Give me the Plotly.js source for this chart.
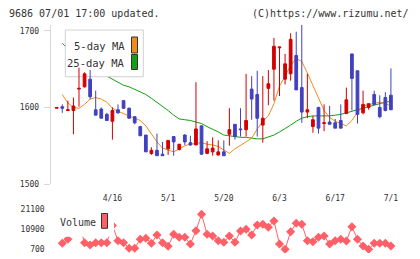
<!DOCTYPE html>
<html>
<head>
<meta charset="utf-8">
<script src="https://cdn.plot.ly/plotly-3.0.1.min.js"></script>
<style>
  html, body { margin: 0; padding: 0; background: #fff; }
  #chart { width: 420px; height: 259px; }
</style>
</head>
<body>
<div id="chart"></div>
<script>
// Daily candles for 9686, Apr 2024 .. 07/01, with 5/25-day moving averages and volume.
const openP  = [1599,1601,1596,1596,1624,1627,1637,1597,1598,1591,1582,1597,1609,1599,1588,1575,1564,1540,1544,1539,
                1546,1562,1545,1564,1554,1551,1576,1540,1542,1538,1542,1565,1578,1572,1571,1624,1617,1577,1625,1650,
                1678,1637,1644,1668,1626,1594,1575,1600,1579,1581,1580,1583,1592,1670,1648,1593,1600,1617,1600,1613,1616];
const highP  = [1600,1604,1609,1613,1652,1646,1649,1622,1600,1593,1600,1604,1609,1600,1588,1576,1564,1548,1566,1555,
                1557,1562,1552,1565,1563,1633,1576,1556,1561,1557,1557,1599,1578,1599,1644,1641,1648,1641,1649,1691,
                1679,1670,1697,1699,1712,1644,1589,1601,1604,1602,1585,1604,1626,1670,1648,1622,1605,1622,1616,1620,1651];
const lowP   = [1599,1593,1596,1565,1601,1626,1611,1590,1586,1583,1558,1592,1598,1585,1578,1563,1542,1538,1537,1537,
                1538,1537,1544,1551,1550,1551,1538,1539,1537,1537,1537,1550,1558,1562,1562,1584,1562,1554,1603,1609,
                1615,1630,1635,1623,1580,1586,1567,1566,1569,1578,1573,1573,1592,1596,1579,1591,1597,1603,1586,1595,1597];
const closeP = [1600,1599,1597,1602,1625,1644,1614,1590,1586,1583,1596,1593,1599,1586,1580,1563,1542,1544,1537,1537,
                1557,1555,1552,1555,1551,1572,1539,1546,1547,1542,1537,1571,1562,1571,1583,1611,1586,1586,1631,1680,
                1679,1657,1689,1623,1594,1597,1584,1573,1580,1578,1573,1573,1610,1638,1591,1604,1605,1604,1588,1596,1597];

const ma5  = [null,1617,1606,1600,1599,1604,1611,1613,1611,1607,1599,1595,1592,1589,1586,1583,1576,1566,1555,1547,
              1544,1542,1546,1550,1552,1553,1554,1552,1551,1549,1545,1540,1546,1550,1555,1560,1572,1582,1589,1605,
              1628,1641,1655,1664,1660,1645,1629,1612,1596,1587,1582,1579,1576,1583,1594,1602,1604,1605,1607,1605,1602];
const ma25 = [null,1684,1676,1669,1663,1658,1653,1649,1645,1641,1638,1634,1629,1627,1624,1620,1617,1612,1607,1601,
              1596,1590,1585,1584,1583,1581,1579,1575,1572,1568,1564,1563,1562,1561,1561,1560,1559,1559,1561,1564,
              1568,1572,1577,1582,1586,1588,1589,1589,1589,1589,1590,1591,1593,1595,1598,1600,1602,1604,1606,1607,1608];

const volume = [null,3740,5760,21100,14000,4040,2880,4040,4040,4040,12800,5050,4040,1210,1210,5760,6270,3740,7940,4040,
                2270,8290,6770,6770,3380,10110,18420,8290,7430,5050,4240,7430,4240,9960,10820,7940,13000,13350,11840,15030,
                3380,700,9610,13860,13350,5050,4550,6770,7430,3380,5050,5760,4900,12140,5760,2370,700,3740,3740,3740,2370];

const tickLabels  = ['4/16', '5/1', '5/20', '6/3', '6/17', '7/1'];
const tickDays    = [10, 20, 30, 40, 50, 60];
const priceTicks  = [1500, 1600, 1700];
const volumeTicks = [700, 10900, 21100];

const days = openP.map((_, i) => i);

// ---- geometry (pixels of the 420x259 canvas) ----
const W = 420, H = 259;
const plotL = 50.7, plotR = 405;
const priceTop = 25, priceBot = 184;
const volTop = 205, volBot = 253;
const xRange = [-1.08, 62.53];
const priceRange = [1500, 1707.8];
const volRange = [-1173, 23125];

const fx = px => px / W;
const fy = py => 1 - py / H;
const dataX = px => xRange[0] + (px - plotL) / (plotR - plotL) * (xRange[1] - xRange[0]);
const dataY = py => priceRange[0] + (priceBot - py) / (priceBot - priceTop) * (priceRange[1] - priceRange[0]);

const RED = '#d20000', BLUE = '#4040c0';
const ORANGE = '#f08c1e', GREEN = '#14a014', VOLC = '#ff6068';
const AXIS = '#d8d8d8', TEXT = '#333';
const MONO = 'DejaVu Sans Mono, monospace';

// moving-average legend frame sits above the MA lines but under the candles
const boxX = [dataX(65.3), dataX(143.3), dataX(143.3), dataX(65.3), dataX(65.3)];
const boxY = [dataY(30), dataY(30), dataY(76.7), dataY(76.7), dataY(30)];

const traces = [
  { type: 'scatter', mode: 'lines', x: days, y: ma25, xaxis: 'x', yaxis: 'y',
    line: { color: GREEN, width: 1 }, hoverinfo: 'skip', showlegend: false },
  { type: 'scatter', mode: 'lines', x: days, y: ma5, xaxis: 'x', yaxis: 'y',
    line: { color: ORANGE, width: 1 }, hoverinfo: 'skip', showlegend: false },
  { type: 'scatter', mode: 'lines', x: boxX, y: boxY, xaxis: 'x', yaxis: 'y',
    fill: 'toself', fillcolor: '#ffffff', line: { color: '#d0d0d0', width: 1 },
    hoverinfo: 'skip', showlegend: false },
  { type: 'candlestick', x: days, open: openP, high: highP, low: lowP, close: closeP,
    xaxis: 'x', yaxis: 'y3', whiskerwidth: 0,
    increasing: { line: { color: RED, width: 1 }, fillcolor: RED },
    decreasing: { line: { color: BLUE, width: 1 }, fillcolor: BLUE },
    hoverinfo: 'skip', showlegend: false },
  { type: 'scatter', mode: 'lines+markers', x: days, y: volume, xaxis: 'x2', yaxis: 'y2',
    line: { color: VOLC, width: 1 }, marker: { symbol: 'diamond', size: 7, color: VOLC },
    hoverinfo: 'skip', showlegend: false }
];

const xDom = [fx(plotL), fx(plotR)];
const gridStep = (xRange[1] - xRange[0]) / 11;
const tickFont = { family: MONO, size: 8, color: TEXT };

const layout = {
  width: W, height: H,
  margin: { l: 0, r: 0, t: 0, b: 0 },
  paper_bgcolor: '#ffffff', plot_bgcolor: 'rgba(0,0,0,0)',
  showlegend: false,
  boxgap: 0.3,
  xaxis: {
    domain: xDom, range: xRange, anchor: 'y',
    tickmode: 'array', tickvals: tickDays, ticktext: tickLabels,
    ticks: '', showgrid: false, zeroline: false, showline: false,
    tickfont: tickFont, ticklabelstandoff: 8,
    rangeslider: { visible: false }
  },
  xaxis2: {
    domain: xDom, range: xRange, anchor: 'y2', visible: false
  },
  xaxis4: {
    overlaying: 'x', anchor: 'y', range: xRange,
    tickmode: 'linear', tick0: xRange[0], dtick: gridStep,
    ticks: 'outside', ticklen: 5, tickwidth: 1, tickcolor: AXIS,
    showticklabels: false, showgrid: false, zeroline: false,
    showline: true, linecolor: AXIS, linewidth: 1
  },
  xaxis5: {
    overlaying: 'x', anchor: 'y', range: xRange,
    tickmode: 'linear', tick0: xRange[0], dtick: gridStep,
    ticks: 'inside', ticklen: 3, tickwidth: 1, tickcolor: AXIS,
    showticklabels: false, showgrid: false, zeroline: false, showline: false
  },
  yaxis: {
    domain: [fy(priceBot), fy(priceTop)], range: priceRange, anchor: 'x',
    tickmode: 'array', tickvals: priceTicks,
    ticks: 'outside', ticklen: 6, tickwidth: 1, tickcolor: AXIS,
    showline: true, linecolor: AXIS, linewidth: 1,
    showgrid: false, zeroline: false,
    tickfont: tickFont, ticklabelstandoff: 3
  },
  yaxis3: {
    overlaying: 'y', anchor: 'x', range: priceRange, visible: false
  },
  yaxis4: {
    overlaying: 'y', anchor: 'x', range: priceRange,
    tickmode: 'array', tickvals: priceTicks,
    ticks: 'inside', ticklen: 3, tickwidth: 1, tickcolor: AXIS,
    showticklabels: false, showgrid: false, zeroline: false, showline: false
  },
  yaxis2: {
    domain: [fy(volBot), fy(volTop)], range: volRange, anchor: 'x2',
    tickmode: 'array', tickvals: volumeTicks, ticktext: volumeTicks.map(String),
    ticks: '', showgrid: false, zeroline: false, showline: false,
    tickfont: tickFont, ticklabelstandoff: 5
  },
  shapes: [
    // MA legend swatches
    { type: 'rect', xref: 'paper', yref: 'paper', layer: 'above',
      x0: fx(131.5), x1: fx(137.5), y0: fy(53), y1: fy(37),
      fillcolor: ORANGE, line: { color: '#333', width: 1 } },
    { type: 'rect', xref: 'paper', yref: 'paper', layer: 'above',
      x0: fx(131.5), x1: fx(137.5), y0: fy(69.5), y1: fy(54.5),
      fillcolor: GREEN, line: { color: '#333', width: 1 } },
    // volume legend
    { type: 'rect', xref: 'paper', yref: 'paper', layer: 'above',
      x0: fx(55), x1: fx(114), y0: fy(236.7), y1: fy(205),
      fillcolor: '#ffffff', line: { width: 0 } },
    { type: 'rect', xref: 'paper', yref: 'paper', layer: 'above',
      x0: fx(101.5), x1: fx(107.5), y0: fy(228.3), y1: fy(213.5),
      fillcolor: VOLC, line: { color: '#333', width: 1 } }
  ],
  annotations: [
    { xref: 'paper', yref: 'paper', x: fx(7), y: fy(13.5), xanchor: 'left', yanchor: 'middle',
      text: '9686 07/01 17:00 updated.', showarrow: false,
      font: { family: MONO, size: 10, color: TEXT } },
    { xref: 'paper', yref: 'paper', x: fx(410.5), y: fy(13.5), xanchor: 'right', yanchor: 'middle',
      text: '(C)https://www.rizumu.net/', showarrow: false,
      font: { family: MONO, size: 10, color: TEXT } },
    { xref: 'paper', yref: 'paper', x: fx(126.5), y: fy(46), xanchor: 'right', yanchor: 'middle',
      text: '5-day MA', showarrow: false,
      font: { family: MONO, size: 10.5, color: TEXT } },
    { xref: 'paper', yref: 'paper', x: fx(126.5), y: fy(62.7), xanchor: 'right', yanchor: 'middle',
      text: '25-day MA', showarrow: false,
      font: { family: MONO, size: 10.5, color: TEXT } },
    { xref: 'paper', yref: 'paper', x: fx(58), y: fy(222.7), xanchor: 'left', yanchor: 'middle',
      text: 'Volume', showarrow: false,
      font: { family: MONO, size: 10, color: TEXT } }
  ]
};

Plotly.newPlot('chart', traces, layout, { staticPlot: true, displayModeBar: false });
</script>
</body>
</html>
